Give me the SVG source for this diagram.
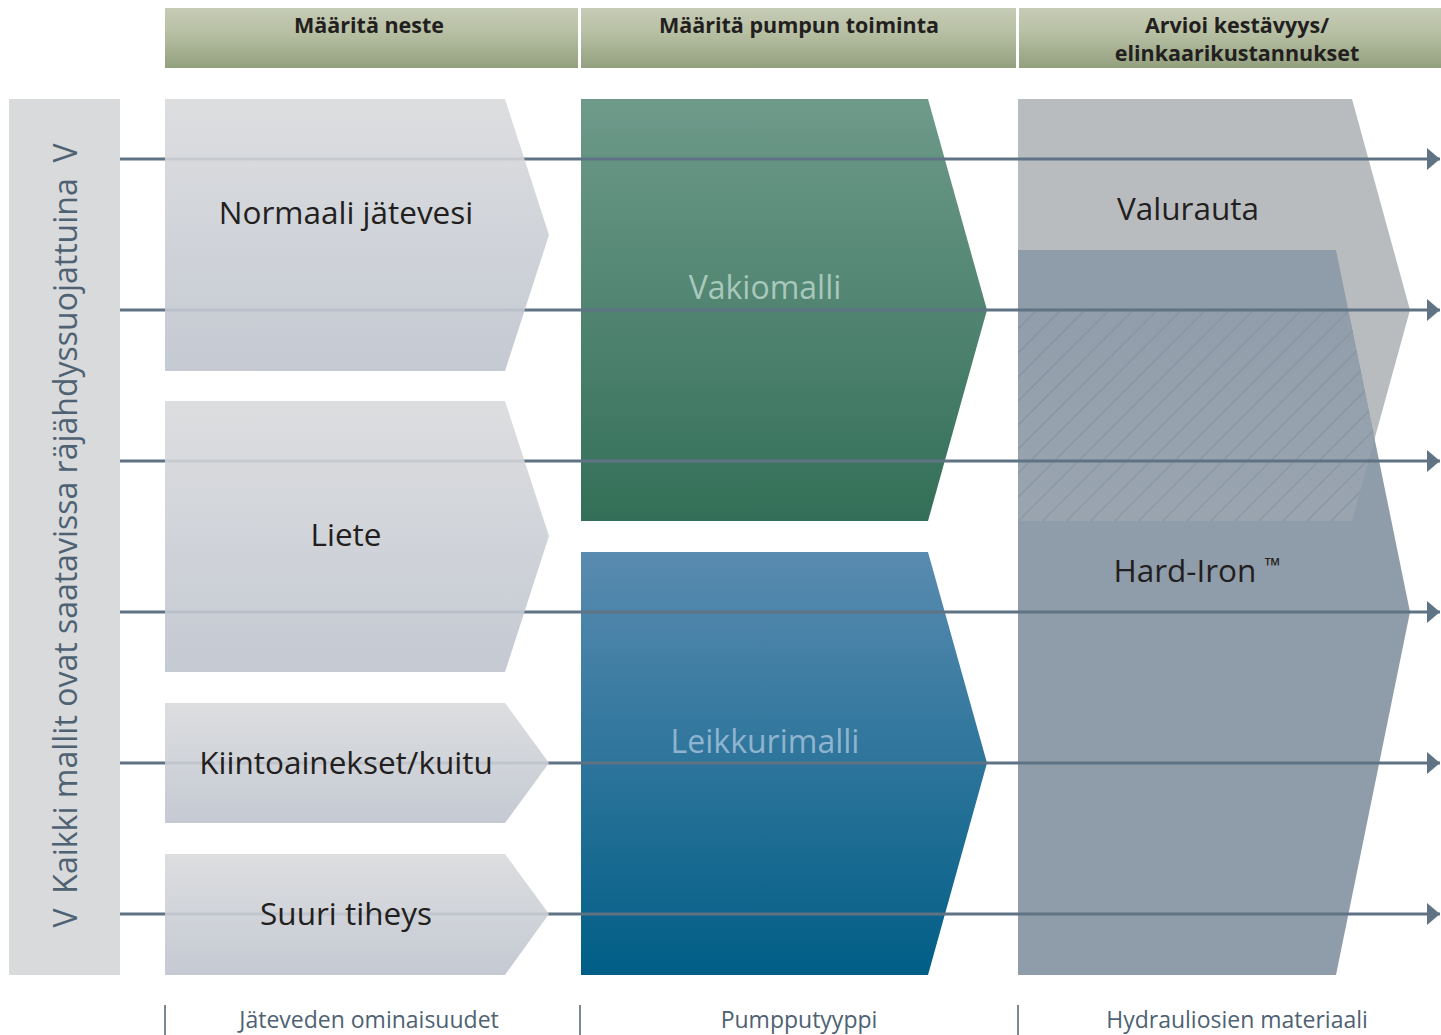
<svg xmlns="http://www.w3.org/2000/svg" width="1441" height="1035" viewBox="0 0 1441 1035">
<style>
.hdr{font-family:"Open Sans","Liberation Sans",sans-serif;font-weight:bold;font-size:21.5px;fill:#231f20;text-anchor:middle}
.lbl{font-family:"Open Sans","Liberation Sans",sans-serif;font-size:31.5px;fill:#231f20;text-anchor:middle}
.lt{font-family:"Open Sans","Liberation Sans",sans-serif;font-size:32px;text-anchor:middle}
.foot{font-family:"Open Sans","Liberation Sans",sans-serif;font-size:23px;fill:#4e6273;text-anchor:middle}
.side{font-family:"Open Sans","Liberation Sans",sans-serif;font-size:32px;fill:#4e6273;text-anchor:middle}
.conn{stroke:#5f7384;stroke-width:3;fill:none}
.tick{stroke:#4e6273;stroke-width:1.5}
</style>
<defs>
<linearGradient id="gHdr" x1="0" y1="0" x2="0" y2="1"><stop offset="0" stop-color="#c5cbb5"/><stop offset="0.4" stop-color="#b8c0a4"/><stop offset="1" stop-color="#93a07e"/></linearGradient>
<linearGradient id="gLeft" x1="0" y1="0" x2="0" y2="1"><stop offset="0" stop-color="#d9dadc"/><stop offset="1" stop-color="#bec4ce"/></linearGradient>
<linearGradient id="gGreen" x1="0" y1="0" x2="0" y2="1"><stop offset="0" stop-color="#6e9a8a"/><stop offset="1" stop-color="#336f58"/></linearGradient>
<linearGradient id="gBlue" x1="0" y1="0" x2="0" y2="1"><stop offset="0" stop-color="#5a8bb0"/><stop offset="1" stop-color="#005e86"/></linearGradient>
<linearGradient id="gHatchBg" x1="0" y1="0" x2="0" y2="1"><stop offset="0" stop-color="#8f9ca9"/><stop offset="1" stop-color="#abb3bb"/></linearGradient>
<pattern id="hatch" patternUnits="userSpaceOnUse" width="17" height="17" patternTransform="rotate(45)"><line x1="0" y1="0" x2="0" y2="17" stroke="#7d8b99" stroke-width="1.4"/></pattern>
<clipPath id="cOver"><polygon points="1018,310 1410,310 1352,521 1018,521"/></clipPath>
<marker id="arr" markerWidth="14" markerHeight="22" refX="13" refY="11" orient="auto" markerUnits="userSpaceOnUse"><polygon points="0,0 13,11 0,22" fill="#5f7384"/></marker>
</defs>
<rect width="1441" height="1035" fill="#ffffff"/>

<g id="header">
<rect x="165" y="8" width="413" height="60" fill="url(#gHdr)"/>
<rect x="581" y="8" width="435" height="60" fill="url(#gHdr)"/>
<rect x="1019" y="8" width="422" height="60" fill="url(#gHdr)"/>
<text class="hdr" x="369" y="33">Määritä neste</text>
<text class="hdr" x="799" y="33">Määritä pumpun toiminta</text>
<text class="hdr" x="1237" y="33">Arvioi kestävyys/</text>
<text class="hdr" x="1237" y="61">elinkaarikustannukset</text>
</g>

<g id="side-bar">
<rect x="9" y="99" width="111" height="876" fill="#d9dadc"/>
<text class="side" transform="translate(77,536) rotate(-90)" x="0" y="0">Kaikki mallit ovat saatavissa räjähdyssuojattuina</text>
<text class="side" transform="translate(77,918) rotate(-90)" x="0" y="0">V</text>
<text class="side" transform="translate(77,153) rotate(-90)" x="0" y="0">V</text>
</g>

<g id="valurauta">
<polygon points="1018,99 1352,99 1410,310 1352,521 1018,521" fill="#b9bcbf"/>
</g>
<g id="hard-iron">
<polygon points="1018,250 1336,250 1410,612 1336,975 1018,975" fill="#8f9ca9"/>
<g clip-path="url(#cOver)">
<polygon points="1018,250 1336,250 1410,612 1336,975 1018,975" fill="url(#gHatchBg)"/>
<polygon points="1018,250 1336,250 1410,612 1336,975 1018,975" fill="url(#hatch)"/>
</g>
</g>
<g id="green">
<polygon points="581,99 928,99 987,310 928,521 581,521" fill="url(#gGreen)"/>
</g>
<g id="blue">
<polygon points="581,552 928,552 987,763 928,975 581,975" fill="url(#gBlue)"/>
</g>

<g id="connectors">
<line class="conn" x1="120" y1="159" x2="1440" y2="159" marker-end="url(#arr)"/>
<line class="conn" x1="120" y1="310" x2="1440" y2="310" marker-end="url(#arr)"/>
<line class="conn" x1="120" y1="461" x2="1440" y2="461" marker-end="url(#arr)"/>
<line class="conn" x1="120" y1="612" x2="1440" y2="612" marker-end="url(#arr)"/>
<line class="conn" x1="120" y1="763" x2="1440" y2="763" marker-end="url(#arr)"/>
<line class="conn" x1="120" y1="914" x2="1440" y2="914" marker-end="url(#arr)"/>
</g>

<g id="normaali">
<polygon points="165,99 505,99 549,235 505,371 165,371" fill="url(#gLeft)" fill-opacity="0.9"/>
<text class="lbl" x="346" y="224">Normaali jätevesi</text>
</g>
<g id="liete">
<polygon points="165,401 505,401 549,536 505,672 165,672" fill="url(#gLeft)" fill-opacity="0.9"/>
<text class="lbl" x="346" y="546">Liete</text>
</g>
<g id="kiinto">
<polygon points="165,703 505,703 549,763 505,823 165,823" fill="url(#gLeft)" fill-opacity="0.9"/>
<text class="lbl" x="346" y="774">Kiintoainekset/kuitu</text>
</g>
<g id="suuri">
<polygon points="165,854 505,854 549,914 505,975 165,975" fill="url(#gLeft)" fill-opacity="0.9"/>
<text class="lbl" x="346" y="925">Suuri tiheys</text>
</g>

<g id="labels-right">
<text class="lt" x="765" y="299" fill="#a8c8bb">Vakiomalli</text>
<text class="lt" x="765" y="753" fill="#8fb4cf">Leikkurimalli</text>
<text class="lbl" x="1188" y="220">Valurauta</text>
<text class="lbl" x="1197" y="582">Hard-Iron <tspan font-size="21" dy="-9">™</tspan></text>
</g>

<g id="footer">
<line class="tick" x1="165" y1="1005" x2="165" y2="1035"/>
<line class="tick" x1="580" y1="1005" x2="580" y2="1035"/>
<line class="tick" x1="1018" y1="1005" x2="1018" y2="1035"/>
<text class="foot" x="369" y="1028">Jäteveden ominaisuudet</text>
<text class="foot" x="799" y="1028">Pumpputyyppi</text>
<text class="foot" x="1237" y="1028">Hydrauliosien materiaali</text>
</g>
</svg>
